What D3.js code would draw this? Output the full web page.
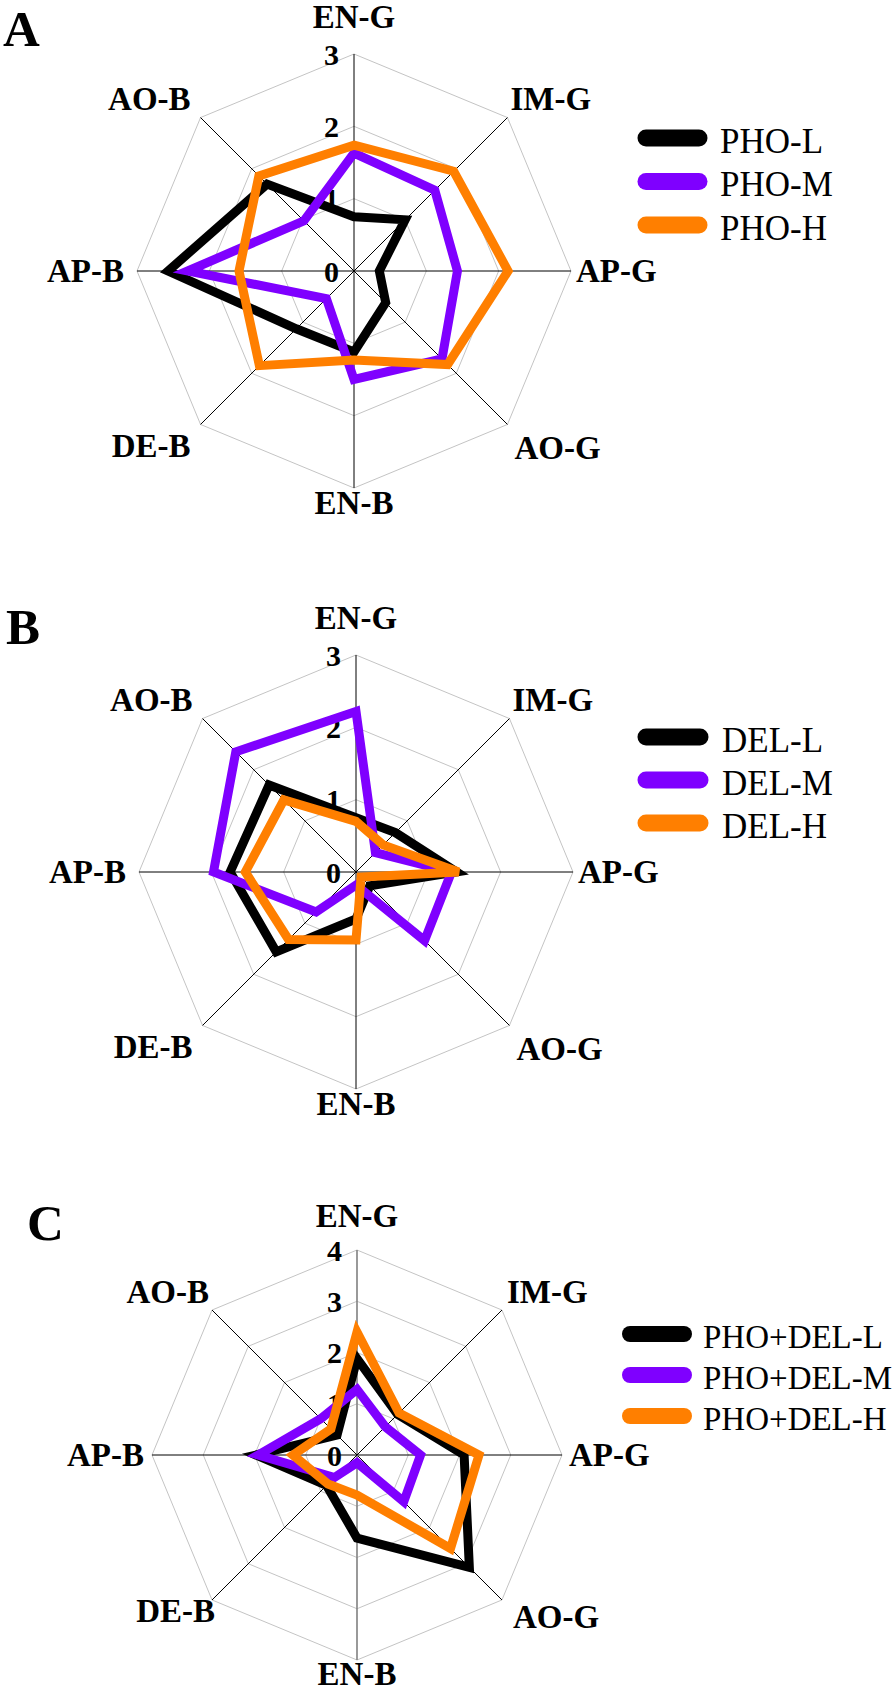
<!DOCTYPE html>
<html><head><meta charset="utf-8">
<script src="https://cdn.jsdelivr.net/npm/d3@7"></script>
<style>body{margin:0;background:#fff}svg{display:block}</style>
</head><body>
<script>
// ---- data ----
const categories = ["EN-G","IM-G","AP-G","AO-G","EN-B","DE-B","AP-B","AO-B"];
const seriesColors = ["#000000","#7f00ff","#ff7f00"];

const namesA = ["PHO-L","PHO-M","PHO-H"];
const phoL = [0.75, 1.00, 0.35, 0.62, 1.12, 1.13, 2.57, 1.70];
const phoM = [1.63, 1.58, 1.43, 1.72, 1.50, 0.54, 2.30, 0.98];
const phoH = [1.74, 1.95, 2.13, 1.83, 1.23, 1.85, 1.59, 1.86];

const namesB = ["DEL-L","DEL-M","DEL-H"];
const delL = [0.75, 0.77, 1.39, 0.27, 0.65, 1.56, 1.74, 1.70];
const delM = [2.22, 0.38, 1.32, 1.34, 0.18, 0.78, 1.97, 2.35];
const delH = [0.70, 0.53, 1.42, 0.10, 0.94, 1.32, 1.53, 1.41];

const namesC = ["PHO+DEL-L","PHO+DEL-M","PHO+DEL-H"];
const pdL = [1.88, 1.12, 2.09, 3.10, 1.62, 0.84, 1.97, 0.55];
const pdM = [1.28, 0.78, 1.24, 1.29, 0.15, 0.62, 1.93, 1.00];
const pdH = [2.40, 1.16, 2.38, 2.58, 0.78, 0.80, 1.25, 0.72];

const ticksAB = [0, 1, 2, 3];
const ticksC = [0, 1, 2, 3, 4];

// ---- layout ----
const W = 896, H = 1691;
const svg = d3.select("body").append("svg").attr("width", W).attr("height", H);
svg.append("rect").attr("width", W).attr("height", H).attr("fill", "#fff");
const FONT = "'Liberation Serif','Times New Roman',serif";

function radar(p) {
  const g = svg.append("g");
  const n = categories.length;
  const ang = d3.scalePoint().domain(categories).range([0, 2 * Math.PI * (n - 1) / n]);
  const r = d3.scaleLinear().domain([0, d3.max(p.ticks)]).range([0, p.R]);
  const pt = (c, v) => [p.cx + r(v) * Math.sin(ang(c)), p.cy - r(v) * Math.cos(ang(c))];

  // rings
  p.ticks.filter(t => t > 0).forEach(t => {
    g.append("polygon")
      .attr("points", categories.map(c => pt(c, t).join(",")).join(" "))
      .attr("fill", "none").attr("stroke", "#c4c4c4").attr("stroke-width", 1);
  });
  // spokes
  categories.forEach((c, i) => {
    const e = pt(c, d3.max(p.ticks));
    const vert = p.grayVert && (i === 0 || i === 4);
    g.append("line").attr("x1", p.cx).attr("y1", p.cy).attr("x2", e[0]).attr("y2", e[1])
      .attr("stroke", vert ? "#808080" : "#000")
      .attr("stroke-width", vert ? 1.6 : 1);
  });
  // tick labels
  p.ticks.forEach(t => {
    g.append("text").attr("x", p.cx - 15).attr("y", p.cy - r(t))
      .attr("text-anchor", "end").attr("dominant-baseline", "central")
      .attr("font-family", FONT).attr("font-weight", "bold").attr("font-size", 30)
      .text(t);
  });
  // axis labels
  const lo = p.lab;
  categories.forEach((c, i) => {
    const e = pt(c, d3.max(p.ticks));
    let x = e[0], y = e[1], anchor = "middle";
    if (i === 0) { y -= lo.top; }
    else if (i === 4) { y += lo.bot; }
    else if (i === 1) { x += lo.ur[0]; y += lo.ur[1]; anchor = "start"; }
    else if (i === 2) { x += lo.r; anchor = "start"; }
    else if (i === 3) { x += lo.lr[0]; y += lo.lr[1]; anchor = "start"; }
    else if (i === 5) { x -= lo.ll[0]; y += lo.ll[1]; anchor = "end"; }
    else if (i === 6) { x -= lo.l; anchor = "end"; }
    else if (i === 7) { x -= lo.ul[0]; y += lo.ul[1]; anchor = "end"; }
    g.append("text").attr("x", x).attr("y", y)
      .attr("text-anchor", anchor).attr("dominant-baseline", "central")
      .attr("font-family", FONT).attr("font-weight", "bold").attr("font-size", 33)
      .text(c);
  });
  // series
  const line = d3.lineRadial()
    .angle((d, i) => ang(categories[i]))
    .radius(d => r(d))
    .curve(d3.curveLinearClosed);
  p.series.forEach((s, k) => {
    g.append("path").attr("transform", `translate(${p.cx},${p.cy})`)
      .attr("d", line(s)).attr("fill", "none")
      .attr("stroke", seriesColors[k]).attr("stroke-width", 9)
      .attr("stroke-linejoin", "miter").attr("stroke-miterlimit", 4);
  });
  // panel letter
  g.append("text").attr("x", p.letterPos[0]).attr("y", p.letterPos[1])
    .attr("font-family", FONT).attr("font-weight", "bold").attr("font-size", 51)
    .text(p.letter);
  // legend
  p.names.forEach((nm, k) => {
    const y = p.leg.y0 + k * p.leg.dy;
    g.append("line").attr("x1", p.leg.x0).attr("x2", p.leg.x1).attr("y1", y).attr("y2", y)
      .attr("stroke", seriesColors[k]).attr("stroke-width", p.leg.w).attr("stroke-linecap", "round");
    g.append("text").attr("x", p.leg.tx).attr("y", y + 3)
      .attr("dominant-baseline", "central")
      .attr("font-family", FONT).attr("font-size", p.leg.fs)
      .text(nm);
  });
}

const labAB = {top: 37, bot: 15, ur: [3, -19], r: 5, lr: [7, 24], ll: [10, 22], l: 13, ul: [10, -19]};
const labC = {top: 34, bot: 14, ur: [5, -18], r: 7, lr: [11, 17], ll: [-3, 11], l: 8, ul: [3, -18]};

radar({cx: 354, cy: 271, R: 217, ticks: ticksAB, series: [phoL, phoM, phoH], names: namesA,
  letter: "A", letterPos: [3, 45.5], lab: labAB,
  leg: {x0: 646, x1: 699, y0: 138, dy: 43.5, w: 17, tx: 720, fs: 35}});
radar({cx: 356, cy: 872, R: 217, ticks: ticksAB, series: [delL, delM, delH], names: namesB,
  letter: "B", letterPos: [6, 644], lab: labAB,
  leg: {x0: 646, x1: 700, y0: 737, dy: 43, w: 17, tx: 722, fs: 35}});
radar({cx: 357, cy: 1455, R: 205, ticks: ticksC, series: [pdL, pdM, pdH], names: namesC,
  letter: "C", letterPos: [27, 1240], lab: labC, grayVert: true,
  leg: {x0: 630, x1: 684, y0: 1334, dy: 41, w: 16, tx: 703, fs: 33}});
</script>
</body></html>
